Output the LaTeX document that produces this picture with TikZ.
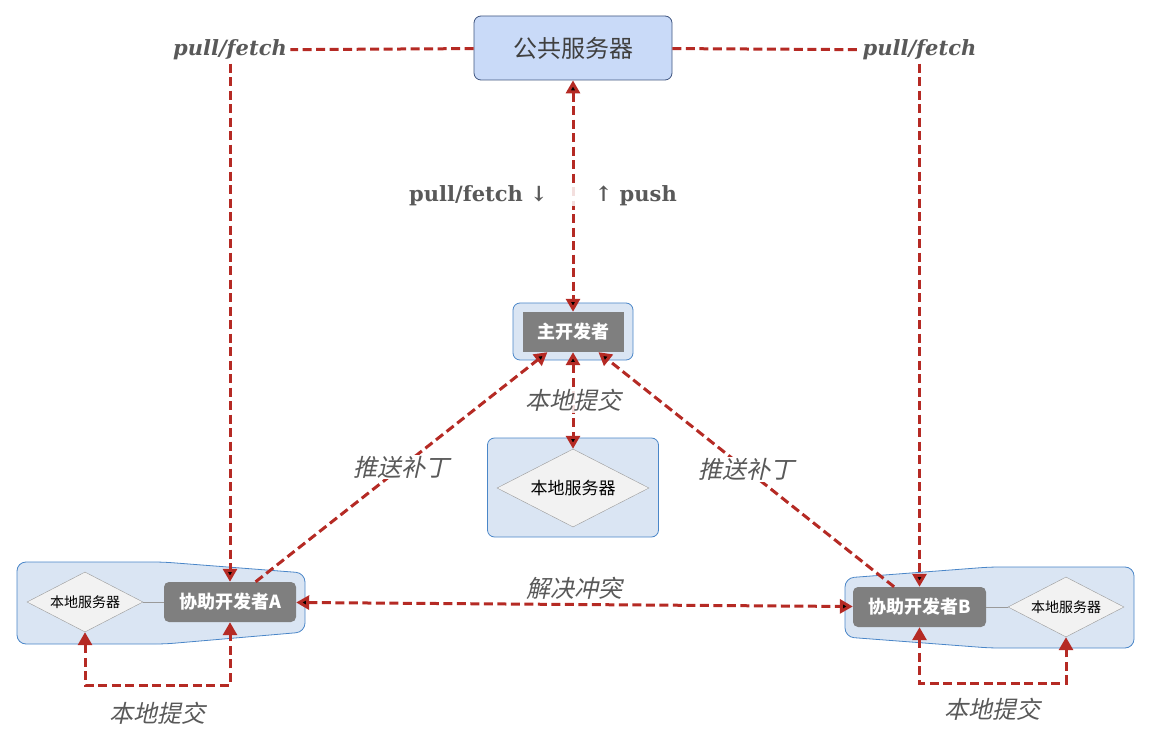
\documentclass[tikz,border=0pt]{standalone}
\usepackage{fontspec}
\setmainfont{DejaVu Serif}
\newfontfamily\cjk{Noto Sans CJK SC}
\newfontfamily\cjkit[FakeSlant=0.22]{Noto Sans CJK SC}
\usetikzlibrary{positioning,shapes.geometric,arrows.meta}

\definecolor{lnred}{HTML}{B52A24}
\definecolor{pubfill}{HTML}{C9DAF8}
\definecolor{pubdraw}{HTML}{3F5580}
\definecolor{grpfill}{HTML}{DAE5F3}
\definecolor{grpdraw}{HTML}{4A86C8}
\definecolor{devfill}{HTML}{7F7F7F}
\definecolor{dmdfill}{HTML}{F2F2F2}
\definecolor{dmddraw}{HTML}{9A9A9A}
\definecolor{lbltext}{HTML}{595959}

\newcommand{\fs}[1]{\fontsize{#1}{#1}\selectfont}

\begin{document}
\begin{tikzpicture}[x=1pt,y=-1pt,node distance=10pt,on grid,
    link/.style={draw=lnred,line width=3pt,dash pattern=on 9pt off 4.5pt,
                 >={Triangle[length=13pt,width=14pt]}},
    grp/.style={draw=grpdraw,fill=grpfill,line width=0.8pt},
    grpbox/.style={grp,rectangle,rounded corners=7pt},
    pubbox/.style={draw=pubdraw,fill=pubfill,rounded corners=7pt,line width=0.8pt,
                   minimum width=198pt,minimum height=64pt,
                   text=black!75,font=\cjk\fs{24}},
    devbox/.style={fill=devfill,text=white,font=\cjk\bfseries\fs{18},
                   minimum height=40pt,inner sep=0pt},
    srv/.style={diamond,draw=dmddraw,fill=dmdfill,aspect=1.95,inner sep=0pt,
                text=black,font=\cjk\fs{14},minimum width=116pt,minimum height=60pt},
    pulllbl/.style={text=lbltext,font=\bfseries\itshape\fs{21}},
    cnlbl/.style={text=lbltext,font=\cjkit\fs{24},inner sep=1pt}]
\useasboundingbox (0,0) rectangle (1151,743);

% side groups
\draw[grp,rounded corners=9pt] (17,562) -- (163,562) -- (305,573) -- (305,632)
    -- (165,644) -- (17,644) -- cycle;
\draw[grp,rounded corners=9pt] (845,578) -- (990,567) -- (1134,567) -- (1134,648)
    -- (990,648) -- (845,637) -- cycle;

\node[pubbox]                                          (pub)     at (573,48)  {公共服务器};
\node[grpbox,minimum width=120pt,minimum height=57pt]  (mainbg)  [below=283.5pt of pub] {};
\node[devbox,minimum width=101pt]                      (main)    [below=284pt of pub]   {主开发者};
\node[grpbox,minimum width=171pt,minimum height=99pt]  (localbg) [below=155.5pt of main] {};
\node[srv,minimum width=152pt,minimum height=78pt,font=\cjk\fs{17}]
                                                       (local)   [below=156pt of main]  {本地服务器};

\node[devbox,rounded corners=5pt,minimum width=132pt]  (devA)    at (230,602)   {协助开发者A};
\node[srv]                                             (dA)      [left=145pt of devA]   {本地服务器};
\node[devbox,rounded corners=5pt,minimum width=133pt]  (devB)    at (919.5,607) {协助开发者B};
\node[srv]                                             (dB)      [right=146.5pt of devB] {本地服务器};

\node[pulllbl] (pullL) at (230,50)   {pull/fetch};
\node[pulllbl] (pullR) at (919.5,50) {pull/fetch};

\draw[dmddraw,line width=0.8pt] (dA) -- (devA);
\draw[dmddraw,line width=0.8pt] (devB) -- (dB);

\path [link]
    (pub)   edge (pullL)
            edge (pullR);
\path [link,->]
    (pullL) edge (devA)
    (pullR) edge (devB)
    (devA)  edge node[cnlbl,fill=white] {推送补丁} (main)
    (devB)  edge node[cnlbl,fill=white] {推送补丁} (main);
\path [link,<->]
    (pub)   edge node[text=lbltext,font=\bfseries\fs{21},inner sep=0pt,xshift=-30pt,
                      fill=white,fill opacity=0.85,text opacity=1]
                 {pull/fetch ↓\hspace{47pt}↑ push} (main)
    (main)  edge node[cnlbl,fill=white,fill opacity=0.85,text opacity=1] {本地提交} (local)
    (devA)  edge node[cnlbl,above=3pt] {解决冲突} (devB);

\draw[link,<->] (dA.south) -- ++(0,53) -| node[cnlbl,pos=0.25,below=14pt] {本地提交} (devA.south);
\draw[link,<->] (devB.south) -- ++(0,56) -| node[cnlbl,pos=0.25,below=12pt] {本地提交} (dB.south);

\end{tikzpicture}
\end{document}
